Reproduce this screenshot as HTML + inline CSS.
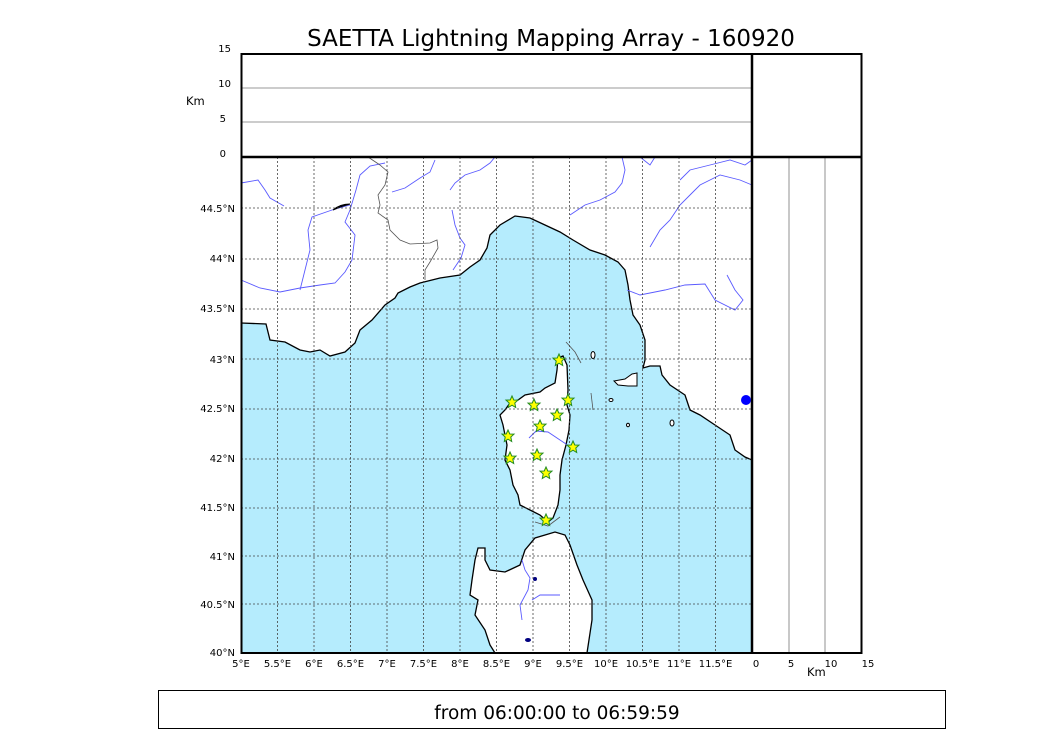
<!DOCTYPE html>
<html><head><meta charset="utf-8"><style>
body{margin:0;background:#fff;}
svg{display:block;font-family:"DejaVu Sans","Liberation Sans",sans-serif;}
</style></head><body>
<svg width="1050" height="750" viewBox="0 0 1050 750" xmlns="http://www.w3.org/2000/svg">
<defs><polygon id="st" points="0,-6 1.8,-2 6,-1.9 2.8,1 3.7,5.5 0,3.2 -3.7,5.5 -2.8,1 -6,-1.9 -1.8,-2" fill="#ffff00" stroke="#228b22" stroke-width="1"/></defs>
<text x="551" y="46" font-size="23" text-anchor="middle">SAETTA Lightning Mapping Array - 160920</text>
<polygon fill="#b5ecfd" points="241,323 266,324 270,340 285,342 300,350 310,352 320,350 330,356 345,352 355,343 360,330 372,320 385,305 395,298 398,293 410,287 420,283 440,278 460,275 470,267 480,260 487,248 490,235 500,225 515,216 530,218 545,225 560,232 573,240 590,250 605,255 618,262 625,270 628,285 630,300 633,315 640,325 645,340 645,360 643,368 650,366 660,366 662,375 670,385 685,395 690,410 700,415 715,425 730,435 735,450 745,457 752,460 752,653 587,653 592,620 592,600 583,580 577,565 570,545 565,535 555,532 545,535 535,538 525,550 520,565 505,572 490,570 485,560 485,548 478,548 475,560 472,580 470,595 478,600 475,615 485,630 490,645 495,653 241,653" stroke="none"/>
<polyline fill="none" stroke="#000" stroke-width="1.3" points="241,323 266,324 270,340 285,342 300,350 310,352 320,350 330,356 345,352 355,343 360,330 372,320 385,305 395,298 398,293 410,287 420,283 440,278 460,275 470,267 480,260 487,248 490,235 500,225 515,216 530,218 545,225 560,232 573,240 590,250 605,255 618,262 625,270 628,285 630,300 633,315 640,325 645,340 645,360 643,368 650,366 660,366 662,375 670,385 685,395 690,410 700,415 715,425 730,435 735,450 745,457 752,460"/>
<polyline fill="none" stroke="#000" stroke-width="1.3" points="587,653 592,620 592,600 583,580 577,565 570,545 565,535 555,532 545,535 535,538 525,550 520,565 505,572 490,570 485,560 485,548 478,548 475,560 472,580 470,595 478,600 475,615 485,630 490,645 495,653"/>
<polygon fill="#fff" stroke="#000" stroke-width="1.3" points="558,358 563,356 567,365 568,390 567,405 570,415 569,430 566,445 562,460 560,475 560,490 558,505 553,518 548,522 540,515 530,510 520,505 518,495 513,485 510,470 505,460 507,445 503,425 500,415 505,410 510,403 518,400 525,395 540,392 545,388 555,383 557,370"/>
<polygon fill="#fff" stroke="#000" points="614,381 625,379 632,374 637,373 637,386 628,386 618,385"/>
<ellipse cx="593" cy="355" rx="2" ry="3.5" fill="#fff" stroke="#000"/>
<ellipse cx="611" cy="400" rx="2" ry="1.5" fill="#fff" stroke="#000"/>
<ellipse cx="628" cy="425" rx="1.5" ry="1.8" fill="#fff" stroke="#000"/>
<ellipse cx="672" cy="423" rx="2" ry="3" fill="#fff" stroke="#000"/>
<ellipse cx="746" cy="400" rx="5" ry="5" fill="#0000ff"/>
<g fill="none" stroke="#5a5aff" stroke-width="0.9">
<polyline points="241,183 258,180 265,190 270,198 284,206"/>
<polyline points="241,280 260,288 280,292 300,288 320,285 335,283 345,272 352,260 355,235 345,222 350,210 356,190 360,175 370,166 385,163"/>
<polyline points="300,290 305,270 310,250 308,230 312,217 332,210 350,205"/>
<polyline points="392,192 405,188 420,178 430,172 435,160"/>
<polyline points="450,190 455,183 465,175 480,170 490,163 495,157"/>
<polyline points="570,215 585,205 600,200 615,192 622,183 625,170 622,157"/>
<polyline points="452,210 455,225 460,238 465,245 461,258 453,270"/>
<polyline points="650,247 660,230 670,220 680,205 690,195 700,185 710,180 720,175 740,180 752,185"/>
<polyline points="627,290 640,295 665,290 685,285 705,284 715,300 735,310 743,300 735,290 727,275"/>
<polyline points="680,180 690,170 710,165 730,160 745,165 752,160"/>
<polyline points="640,157 650,165 655,157"/>
<polyline points="529,438 536,431 548,432 560,440 572,448" />
<polyline points="522,560 525,570 530,578 528,590 520,605 522,620"/>
<polyline points="532,600 540,595 560,595"/>
</g>
<ellipse cx="535" cy="579" rx="2" ry="2" fill="#000080"/>
<ellipse cx="528" cy="640" rx="3" ry="2" fill="#000080"/>
<path d="M333,210 Q340,204 350,204 L340,207 Z" fill="#000080" stroke="#000"/>
<polyline fill="none" stroke="#555" stroke-width="0.8" points="368,157 380,165 388,172 385,185 378,195 380,205 378,213 388,220 390,230 400,240 410,244 430,243 437,240 438,248 430,262 425,270 425,280"/>
<polyline fill="none" stroke="#555" stroke-width="0.8" points="566,342 575,352 581,363"/>
<polyline fill="none" stroke="#555" stroke-width="0.8" points="591,393 593,410"/>
<polyline fill="none" stroke="#555" stroke-width="0.8" points="535,522 548,526 560,517"/>
<g stroke="#444" stroke-width="0.8" stroke-dasharray="2,2">
<line x1="277.5" y1="157" x2="277.5" y2="653"/><line x1="314" y1="157" x2="314" y2="653"/><line x1="350.5" y1="157" x2="350.5" y2="653"/><line x1="387" y1="157" x2="387" y2="653"/><line x1="423.5" y1="157" x2="423.5" y2="653"/><line x1="460" y1="157" x2="460" y2="653"/><line x1="496.5" y1="157" x2="496.5" y2="653"/><line x1="533" y1="157" x2="533" y2="653"/><line x1="569.5" y1="157" x2="569.5" y2="653"/><line x1="606" y1="157" x2="606" y2="653"/><line x1="642.5" y1="157" x2="642.5" y2="653"/><line x1="679" y1="157" x2="679" y2="653"/><line x1="715.5" y1="157" x2="715.5" y2="653"/>
<line x1="241" y1="208" x2="752" y2="208"/><line x1="241" y1="259" x2="752" y2="259"/><line x1="241" y1="309" x2="752" y2="309"/><line x1="241" y1="359" x2="752" y2="359"/><line x1="241" y1="409" x2="752" y2="409"/><line x1="241" y1="459" x2="752" y2="459"/><line x1="241" y1="508" x2="752" y2="508"/><line x1="241" y1="556" x2="752" y2="556"/><line x1="241" y1="604" x2="752" y2="604"/>
</g>
<g>
<use href="#st" x="559" y="360"/><use href="#st" x="512" y="402"/><use href="#st" x="534" y="405"/><use href="#st" x="568" y="400"/><use href="#st" x="557" y="415"/><use href="#st" x="540" y="426"/><use href="#st" x="508" y="436"/><use href="#st" x="573" y="447"/><use href="#st" x="510" y="458"/><use href="#st" x="537" y="455"/><use href="#st" x="546" y="473"/><use href="#st" x="546" y="520"/>
</g>
<g stroke="#000" fill="none">
<rect x="241" y="157" width="511" height="496" stroke-width="1"/>
<line x1="241" y1="88" x2="752" y2="88" stroke="#777" stroke-width="0.8"/>
<line x1="241" y1="122" x2="752" y2="122" stroke="#777" stroke-width="0.8"/>
<line x1="789" y1="157" x2="789" y2="653" stroke="#777" stroke-width="0.8"/>
<line x1="825" y1="157" x2="825" y2="653" stroke="#777" stroke-width="0.8"/>
<rect x="241.5" y="54" width="620" height="599" stroke-width="2"/>
<line x1="241" y1="157" x2="862" y2="157" stroke-width="2.5"/>
<line x1="752" y1="54" x2="752" y2="653" stroke-width="2.5"/>
</g>
<g font-size="10" fill="#000">
<text x="231" y="52" text-anchor="end">15</text><text x="231" y="87" text-anchor="end">10</text><text x="226" y="122" text-anchor="end">5</text><text x="226" y="157" text-anchor="end">0</text>
<text x="186" y="105" font-size="11.5">Km</text>
<g text-anchor="end">
<text x="235" y="212">44.5°N</text><text x="235" y="262">44°N</text><text x="235" y="312">43.5°N</text><text x="235" y="363">43°N</text><text x="235" y="412">42.5°N</text><text x="235" y="462">42°N</text><text x="235" y="511">41.5°N</text><text x="235" y="560">41°N</text><text x="235" y="608">40.5°N</text><text x="235" y="656">40°N</text>
</g>
<g text-anchor="middle">
<text x="241" y="667">5°E</text><text x="277.5" y="667">5.5°E</text><text x="314" y="667">6°E</text><text x="350.5" y="667">6.5°E</text><text x="387" y="667">7°E</text><text x="423.5" y="667">7.5°E</text><text x="460" y="667">8°E</text><text x="496.5" y="667">8.5°E</text><text x="533" y="667">9°E</text><text x="569.5" y="667">9.5°E</text><text x="606" y="667">10°E</text><text x="642.5" y="667">10.5°E</text><text x="679" y="667">11°E</text><text x="715.5" y="667">11.5°E</text>
<text x="756" y="667">0</text><text x="791" y="667">5</text><text x="831" y="667">10</text><text x="868" y="667">15</text>
</g>
<text x="807" y="676" font-size="11.5">Km</text>
</g>
<rect x="158.5" y="690.5" width="787" height="38" fill="none" stroke="#000" stroke-width="1"/>
<text x="557" y="719" font-size="18.5" text-anchor="middle">from 06:00:00 to 06:59:59</text>
</svg>
</body></html>
